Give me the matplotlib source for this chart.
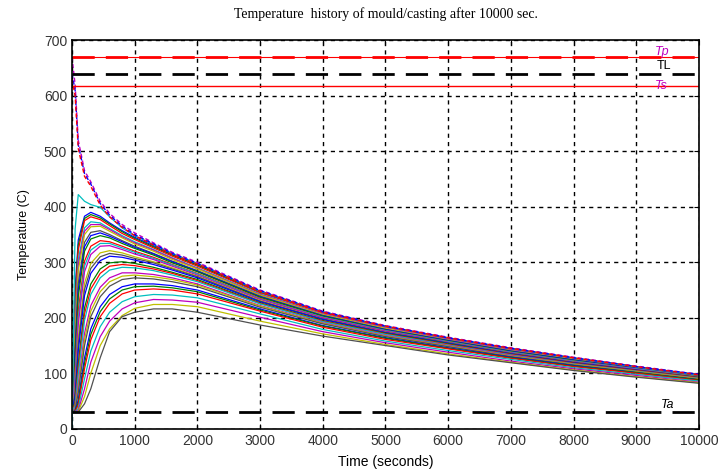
import numpy as np
from matplotlib import pyplot as plt
import itertools

# sample times (s)
time = [0, 50, 100, 200, 300, 450, 600, 800, 1000, 1300, 1600, 2000,
        3000, 4000, 5000, 6000, 7000, 8000, 9000, 10000]

# casting nodes (cooling)
casting = [
    [670, 620, 520, 465, 445, 410, 388, 368, 353, 335, 318, 300, 250, 212, 186, 165, 146, 129, 113, 98],
    [640, 610, 512, 460, 441, 406, 385, 365, 350, 333, 316, 298, 249, 211, 185, 164, 145, 128, 112, 98],
    [630, 600, 505, 455, 437, 403, 382, 363, 348, 331, 314, 297, 248, 210, 185, 164, 145, 128, 112, 97],
]
# mould node next to the interface
spike = [0, 360, 422, 410, 404, 399, 382, 362, 348, 332, 316, 298, 248, 211, 185, 164, 145, 128, 112, 97]

# mould nodes (heating then cooling)
mould = [
    [30, 250, 340, 383, 390, 383, 371, 357, 345, 330, 314, 296, 247, 210, 184, 163, 144, 127, 112, 97],
    [30, 238, 331, 379, 386, 380, 369, 355, 343, 328, 313, 295, 246, 210, 184, 163, 144, 127, 112, 97],
    [30, 225, 322, 375, 382, 377, 366, 352, 341, 326, 311, 293, 245, 209, 183, 162, 143, 126, 111, 96],
    [30, 200, 305, 362, 373, 371, 361, 348, 337, 323, 308, 290, 243, 207, 182, 161, 142, 125, 110, 96],
    [30, 188, 295, 356, 368, 368, 359, 346, 335, 322, 307, 289, 242, 207, 182, 161, 142, 125, 110, 96],
    [30, 175, 285, 350, 364, 365, 356, 344, 333, 320, 305, 288, 241, 206, 181, 160, 141, 125, 110, 95],
    [30, 150, 262, 336, 354, 357, 350, 339, 329, 316, 302, 285, 239, 204, 179, 159, 140, 124, 109, 95],
    [30, 138, 250, 328, 348, 353, 347, 337, 327, 315, 301, 284, 238, 204, 179, 159, 140, 124, 109, 95],
    [30, 125, 238, 320, 342, 348, 344, 334, 325, 313, 299, 283, 237, 203, 178, 158, 139, 123, 108, 94],
    [30, 105, 212, 302, 329, 339, 337, 329, 320, 309, 296, 280, 235, 201, 177, 157, 138, 122, 108, 94],
    [30, 96, 200, 293, 322, 334, 334, 326, 318, 307, 295, 279, 234, 201, 177, 157, 138, 122, 108, 94],
    [30, 88, 188, 283, 314, 329, 330, 323, 315, 305, 293, 277, 233, 200, 176, 156, 137, 121, 107, 93],
    [30, 72, 163, 262, 298, 317, 321, 317, 310, 301, 290, 275, 231, 198, 174, 155, 136, 120, 106, 93],
    [30, 66, 152, 251, 289, 310, 316, 313, 307, 299, 288, 274, 230, 198, 174, 155, 136, 120, 106, 93],
    [30, 60, 140, 240, 280, 303, 311, 309, 304, 296, 286, 272, 229, 197, 173, 154, 135, 119, 106, 92],
    [30, 50, 118, 218, 261, 288, 299, 301, 298, 291, 282, 269, 227, 195, 172, 153, 134, 118, 105, 92],
    [30, 46, 108, 207, 252, 280, 293, 296, 294, 288, 280, 267, 226, 194, 171, 152, 134, 118, 105, 92],
    [30, 42, 98, 195, 242, 272, 286, 291, 290, 285, 277, 265, 225, 193, 170, 151, 133, 117, 104, 91],
    [30, 37, 80, 172, 222, 255, 272, 281, 281, 278, 272, 261, 222, 191, 168, 150, 132, 116, 103, 90],
    [30, 35, 72, 161, 212, 247, 265, 275, 277, 274, 269, 259, 221, 190, 167, 149, 131, 116, 103, 90],
    [30, 34, 65, 150, 202, 238, 257, 269, 272, 270, 265, 256, 219, 189, 166, 148, 130, 115, 102, 89],
    [30, 32, 52, 128, 180, 220, 242, 256, 261, 261, 258, 250, 216, 186, 164, 146, 129, 114, 101, 88],
    [30, 31, 47, 118, 170, 211, 234, 250, 256, 257, 254, 247, 214, 185, 163, 145, 128, 113, 101, 88],
    [30, 31, 43, 108, 160, 202, 226, 243, 250, 252, 250, 243, 212, 183, 161, 144, 127, 112, 100, 87],
    [30, 30, 37, 90, 140, 184, 210, 229, 238, 242, 241, 236, 207, 179, 158, 141, 125, 110, 98, 86],
    [30, 30, 33, 72, 120, 166, 194, 216, 227, 233, 232, 228, 201, 175, 155, 138, 122, 108, 96, 84],
    [30, 30, 31, 58, 100, 150, 180, 204, 217, 224, 224, 220, 194, 171, 152, 135, 120, 106, 94, 83],
    [30, 30, 30, 45, 72, 128, 175, 202, 210, 216, 216, 210, 187, 167, 150, 133, 119, 105, 93, 82],
]

Tp = 670
TL = 640
Ts = 617
Ta = 30

plt.rcParams['font.family'] = ['Liberation Sans', 'DejaVu Sans']
fig = plt.figure(figsize=(7.22, 4.70), dpi=100)
ax = fig.add_axes([0.0997, 0.0877, 0.8684, 0.8265])

colors = itertools.cycle(('b', 'g', 'r', 'c', 'm', 'y', '#505050'))
for T in mould:
    ax.plot(time, T, color=next(colors), lw=0.9)
ax.plot(time, spike, color='c', lw=0.9)
for T, c in zip(casting, ('m', 'b', 'r')):
    ax.plot(time, T, color=c, lw=1, dashes=(3, 2))

ax.axhline(Tp, color='r', lw=0.8)
ax.axhline(Tp, color='r', lw=2, dashes=(8, 4))
ax.axhline(TL, color='k', lw=2, dashes=(8, 4))
ax.axhline(Ts, color='r', lw=1)
ax.axhline(Ta, color='k', lw=2, dashes=(8, 4))

ax.text(9300, Tp + 4, 'Tp', color='m', style='italic', fontsize=9)
ax.text(9330, TL + 8, 'TL', color='k', fontsize=9)
ax.text(9300, Ts - 5, 'Ts', color='m', style='italic', fontsize=9)
ax.text(9400, Ta + 8, 'Ta', color='k', style='italic', fontsize=9)

ax.set_xlim(0, 10000)
ax.set_ylim(0, 700)
ax.set_xticks(np.arange(0, 10001, 1000))
ax.set_yticks(np.arange(0, 701, 100))
ax.tick_params(direction='in', labelsize=10, labelcolor='#333333', top=True, right=True)
ax.grid(True, color='k', linestyle=(0, (3, 3)), lw=1)
for s in ax.spines.values():
    s.set_linewidth(1.2)

ax.set_title('Temperature  history of mould/casting after 10000 sec.',
             family=['Liberation Serif'], fontsize=10, pad=16)
ax.set_xlabel('Time (seconds)', fontsize=10, labelpad=5)
ax.set_ylabel('Temperature (C)', fontsize=9, labelpad=10)

fig.savefig('out.png', dpi=100)
